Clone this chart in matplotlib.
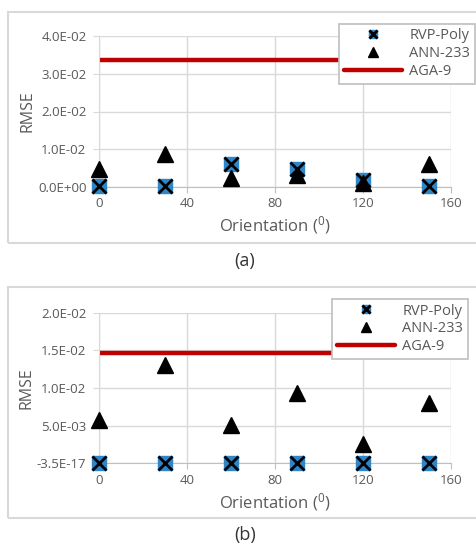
import matplotlib
matplotlib.use("Agg")
import matplotlib.pyplot as plt
from matplotlib.patches import Rectangle

plt.rcParams['font.family'] = ['Open Sans', 'DejaVu Sans']
plt.rcParams['mathtext.default'] = 'regular'

orientation = [0, 30, 60, 90, 120, 150]

# panel (a)
rvp_a = [0.0003, 0.0003, 0.0060, 0.0047, 0.0018, 0.0003]
ann_a = [0.0047, 0.0088, 0.0025, 0.0032, 0.0011, 0.0060]
aga_a = 0.0336
yticks_a = [0.0, 0.01, 0.02, 0.03, 0.04]
ylabels_a = ["0.0E+00", "1.0E-02", "2.0E-02", "3.0E-02", "4.0E-02"]

# panel (b)
rvp_b = [-3.5e-17, -3.5e-17, -3.5e-17, -3.5e-17, -3.5e-17, -3.5e-17]
ann_b = [0.0057, 0.0131, 0.0051, 0.0094, 0.0026, 0.0080]
aga_b = 0.0146
yticks_b = [-3.5e-17, 0.005, 0.01, 0.015, 0.02]
ylabels_b = ["-3.5E-17", "5.0E-03", "1.0E-02", "1.5E-02", "2.0E-02"]

xticks = [0, 40, 80, 120, 160]

gray = "#595959"
grid = "#d9d9d9"

fig = plt.figure(figsize=(4.76, 5.45), dpi=100)

# outer chart frames
fig.patches.append(Rectangle((8 / 476, 1 - 243 / 545), 0.99, 231 / 545,
                             transform=fig.transFigure, fill=False,
                             edgecolor=grid, lw=1.5))
fig.patches.append(Rectangle((8 / 476, 1 - 518 / 545), 0.99, 231 / 545,
                             transform=fig.transFigure, fill=False,
                             edgecolor=grid, lw=1.5))


def draw(ax, rvp, ann, aga, yticks, ylabels, leg_xy):
    line, = ax.plot([orientation[0], orientation[-1]], [aga, aga],
                    color="#c00000", lw=3.2, solid_capstyle="round",
                    zorder=2)
    sq, = ax.plot(orientation, rvp, ls="none", marker="s", ms=10.5,
                  mfc="#2e86c8", mec="#2e86c8", zorder=3, clip_on=False)
    xx, = ax.plot(orientation, rvp, ls="none", marker="x", ms=10,
                  mew=2, color="black", zorder=4, clip_on=False)
    tri, = ax.plot(orientation, ann, ls="none", marker="^", ms=11,
                   color="black", zorder=5, clip_on=False)
    ax.set_xlim(0, 160)
    ax.set_ylim(yticks[0], yticks[-1])
    ax.set_xticks(xticks)
    ax.set_yticks(yticks)
    ax.set_yticklabels(ylabels)
    ax.grid(True, color=grid, lw=1)
    ax.set_axisbelow(True)
    for s in ["top", "right"]:
        ax.spines[s].set_visible(False)
    ax.spines["left"].set_color(grid)
    ax.spines["bottom"].set_color("#bfbfbf")
    ax.tick_params(axis="both", colors=gray, labelsize=9.5, length=4,
                   color="#bfbfbf")
    ax.tick_params(axis="y", length=4, color=grid, pad=5)
    ax.set_xlabel("Orientation ($^{0}$)", color=gray, fontsize=12, labelpad=3)
    ax.set_ylabel("RMSE", color=gray, fontsize=11.5, labelpad=2)
    leg = ax.legend([(sq, xx), tri, line], ["RVP-Poly", "ANN-233", "AGA-9"],
                    loc="upper left", bbox_to_anchor=leg_xy, frameon=True,
                    fancybox=False, edgecolor="#bfbfbf", fontsize=10.5,
                    framealpha=1, handlelength=4.0, markerscale=0.6,
                    borderpad=0.3, labelspacing=0.2, handletextpad=0.5,
                    borderaxespad=0)
    leg.set_zorder(10)
    for t in leg.get_texts():
        t.set_color(gray)
    leg.get_frame().set_linewidth(1.2)


ax1 = fig.add_axes([99 / 476, 1 - 187 / 545, 352 / 476, 151 / 545])
draw(ax1, rvp_a, ann_a, aga_a, yticks_a, ylabels_a, (0.683, 1.08))

ax2 = fig.add_axes([99 / 476, 1 - 463.3 / 545, 352 / 476, 150.6 / 545])
draw(ax2, rvp_b, ann_b, aga_b, yticks_b, ylabels_b, (0.663, 1.09))

fig.text(245 / 476, 1 - 261 / 545, "(a)", ha="center", va="center",
         fontsize=13, color="#333333")
fig.text(245 / 476, 1 - 535 / 545, "(b)", ha="center", va="center",
         fontsize=13, color="#333333")

fig.savefig("out.png", dpi=100)
